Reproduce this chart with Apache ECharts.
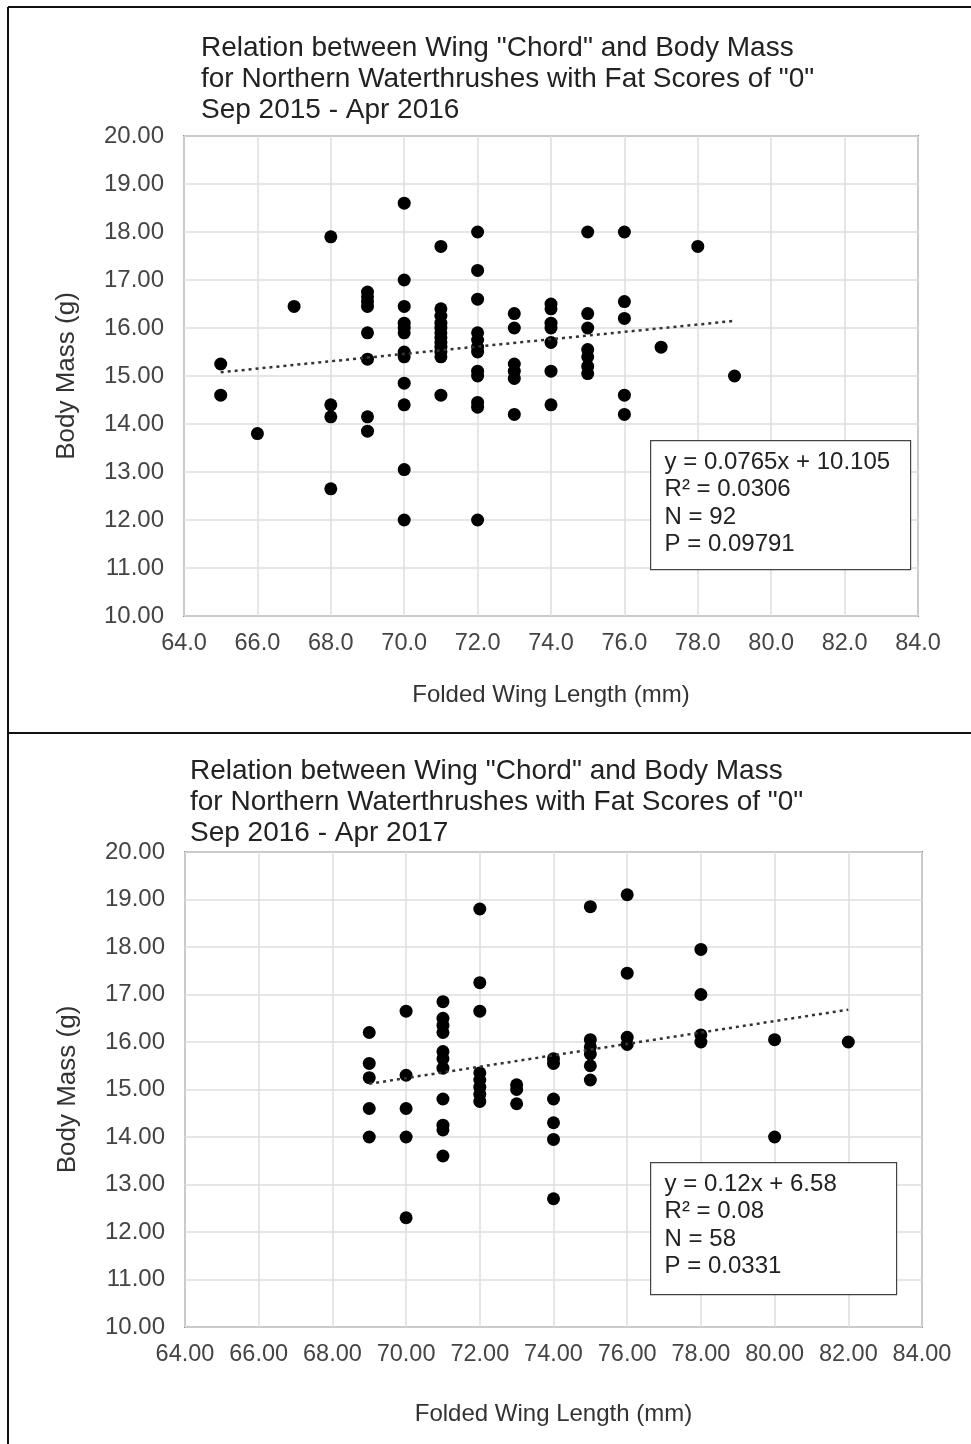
<!DOCTYPE html>
<html>
<head>
<meta charset="utf-8">
<script src="https://cdn.jsdelivr.net/npm/echarts@6/dist/echarts.min.js"></script>
<style>
html,body{margin:0;padding:0;background:#fff;}
#main{width:971px;height:1444px;}
</style>
</head>
<body>
<div id="main"></div>
<script>
// 2015-2016 season: wing length columns and masses at each
var wingA = [65, 66, 67, 68, 69, 70, 71, 72, 73, 74, 75, 76, 77, 78, 79];
var massA = [
	[15.25, 14.6],
	[13.8],
	[16.45],
	[17.9, 14.4, 14.15, 12.65],
	[16.75, 16.65, 16.55, 16.45, 15.9, 15.35, 14.15, 13.85],
	[18.6, 17.0, 16.45, 16.1, 16.0, 15.9, 15.5, 15.4, 14.85, 14.4, 13.05, 12.0],
	[17.7, 16.4, 16.25, 16.1, 16.0, 15.9, 15.8, 15.7, 15.6, 15.5, 15.4, 14.6],
	[18.0, 17.2, 16.6, 15.9, 15.75, 15.6, 15.5, 15.1, 15.0, 14.45, 14.35, 12.0],
	[16.3, 16.0, 15.25, 15.1, 14.95, 14.2],
	[16.5, 16.4, 16.1, 16.0, 15.7, 15.1, 14.4],
	[18.0, 16.3, 16.0, 15.55, 15.4, 15.2, 15.05],
	[18.0, 16.55, 16.2, 14.6, 14.2],
	[15.6],
	[17.7],
	[15.0]
];
var trendA = [0.0765, 10.105];
var trendRangeA = [65, 79];
var statsA = ['y = 0.0765x + 10.105', 'R\u00b2 = 0.0306', 'N = 92', 'P = 0.09791'];

// 2016-2017 season
var wingB = [69, 70, 71, 72, 73, 74, 75, 76, 78, 80, 82];
var massB = [
	[16.2, 15.55, 15.25, 14.6, 14.0],
	[16.65, 15.3, 14.6, 14.0, 12.3],
	[16.85, 16.5, 16.35, 16.2, 15.8, 15.65, 15.45, 14.8, 14.25, 14.15, 13.6],
	[18.8, 17.25, 16.65, 15.35, 15.2, 15.05, 14.9, 14.75],
	[15.1, 15.0, 14.7],
	[15.65, 15.55, 14.8, 14.3, 13.95, 12.7],
	[18.85, 16.05, 15.9, 15.75, 15.5, 15.2],
	[19.1, 17.45, 16.1, 15.95],
	[17.95, 17.0, 16.15, 16.0],
	[16.05, 14.0],
	[16.0]
];
// line as drawn in the picture (label shows rounded values)
var trendB = [0.12, 6.84];
var trendRangeB = [69, 82];
var statsB = ['y = 0.12x + 6.58', 'R\u00b2 = 0.08', 'N = 58', 'P = 0.0331'];

var titleLinesA = ['Relation between Wing "Chord" and Body Mass', 'for Northern Waterthrushes with Fat Scores of "0"', 'Sep 2015 - Apr 2016'];
var titleLinesB = ['Relation between Wing "Chord" and Body Mass', 'for Northern Waterthrushes with Fat Scores of "0"', 'Sep 2016 - Apr 2017'];

var FONT = '"Liberation Sans", Arial, sans-serif';

function points(wing, mass) {
	var out = [];
	for (var i = 0; i < wing.length; i++) {
		for (var j = 0; j < mass[i].length; j++) {
			out.push([wing[i], mass[i][j]]);
		}
	}
	return out;
}
function trend(coef, range) {
	return [
		[range[0], coef[0] * range[0] + coef[1]],
		[range[1], coef[0] * range[1] + coef[1]]
	];
}

function xAxisOf(idx, digits) {
	return {
		type: 'value', gridIndex: idx, min: 64, max: 84, interval: 2,
		name: 'Folded Wing Length (mm)', nameLocation: 'middle', nameGap: idx ? 75 : 67,
		nameTextStyle: {fontFamily: FONT, fontSize: 24, color: '#333'},
		axisLine: {show: false}, axisTick: {show: false},
		axisLabel: {fontFamily: FONT, fontSize: 23.5, color: '#444', margin: 16,
			formatter: function (v) { return v.toFixed(digits); }},
		splitLine: {lineStyle: {color: '#dedede', width: 1.5}}
	};
}
function yAxisOf(idx) {
	return {
		type: 'value', gridIndex: idx, min: 10, max: 20, interval: 1,
		name: 'Body Mass (g)', nameLocation: 'middle', nameGap: 104, nameRotate: 90,
		nameTextStyle: {fontFamily: FONT, fontSize: 26, color: '#333'},
		axisLine: {show: false}, axisTick: {show: false},
		axisLabel: {fontFamily: FONT, fontSize: 24, color: '#444', margin: 20,
			formatter: function (v) { return v.toFixed(2); }},
		splitLine: {lineStyle: {color: '#dedede', width: 1.5}}
	};
}
function statsBox(x, y, w, h, lines) {
	return {
		type: 'group', left: x, top: y, z: 100,
		children: [
			{type: 'rect', z: 100, shape: {x: 0, y: 0, width: w, height: h},
				style: {fill: '#fff', stroke: '#444', lineWidth: 1.2}},
			{type: 'text', z: 101, x: 14, y: 8,
				style: {text: lines.join('\n'), fontFamily: FONT, fontSize: 24, lineHeight: 27.5, fill: '#222'}}
		]
	};
}

var myChart = echarts.init(document.getElementById('main'));
var option = {
	backgroundColor: '#fff',
	animation: false,
	title: [
		{text: titleLinesA.join('\n'), left: 196, top: 28,
			textStyle: {fontFamily: FONT, fontSize: 28, fontWeight: 'normal', color: '#222', lineHeight: 31}},
		{text: titleLinesB.join('\n'), left: 185, top: 751,
			textStyle: {fontFamily: FONT, fontSize: 28, fontWeight: 'normal', color: '#222', lineHeight: 31}}
	],
	grid: [
		{left: 184, top: 136, width: 734, height: 480, show: true, borderColor: '#8f8f8f', borderWidth: 2, backgroundColor: 'transparent'},
		{left: 185, top: 852, width: 737, height: 475, show: true, borderColor: '#8f8f8f', borderWidth: 2, backgroundColor: 'transparent'}
	],
	xAxis: [xAxisOf(0, 1), xAxisOf(1, 2)],
	yAxis: [yAxisOf(0), yAxisOf(1)],
	series: [
		{type: 'scatter', xAxisIndex: 0, yAxisIndex: 0, symbolSize: 13,
			itemStyle: {color: '#000', opacity: 1}, data: points(wingA, massA)},
		{type: 'line', xAxisIndex: 0, yAxisIndex: 0, showSymbol: false, z: 3,
			lineStyle: {color: '#333', width: 2.5, type: [3, 4]}, data: trend(trendA, trendRangeA)},
		{type: 'scatter', xAxisIndex: 1, yAxisIndex: 1, symbolSize: 13,
			itemStyle: {color: '#000', opacity: 1}, data: points(wingB, massB)},
		{type: 'line', xAxisIndex: 1, yAxisIndex: 1, showSymbol: false, z: 3,
			lineStyle: {color: '#333', width: 2.5, type: [3, 4]}, data: trend(trendB, trendRangeB)}
	],
	graphic: [
		// frame of the picture
		{type: 'line', shape: {x1: 8, y1: 7, x2: 971, y2: 7}, style: {stroke: '#111', lineWidth: 2}},
		{type: 'line', shape: {x1: 8, y1: 7, x2: 8, y2: 1444}, style: {stroke: '#111', lineWidth: 2}},
		{type: 'line', shape: {x1: 8, y1: 733, x2: 971, y2: 733}, style: {stroke: '#111', lineWidth: 2}},
		statsBox(650, 440, 260, 129, statsA),
		statsBox(650, 1162, 246, 132, statsB)
	]
};
myChart.setOption(option);
</script>
</body>
</html>
